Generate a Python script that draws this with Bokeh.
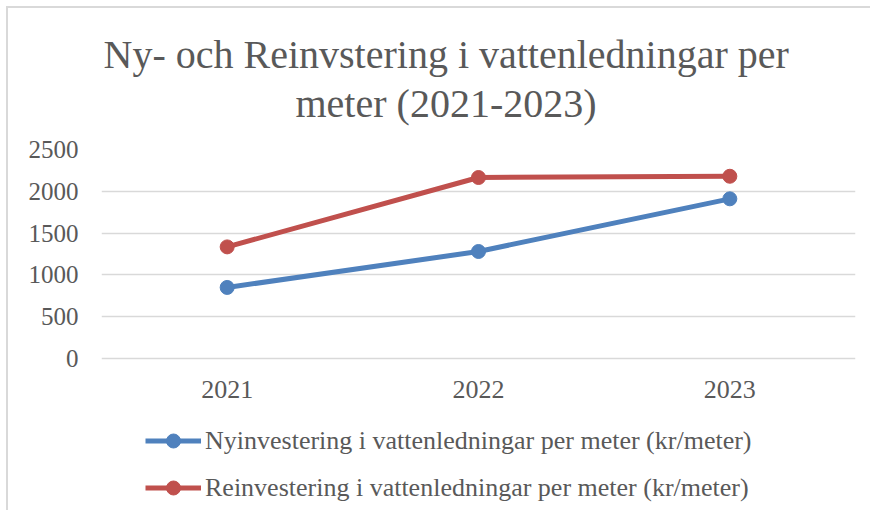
from bokeh.plotting import figure
from bokeh.models import Legend, LegendItem, Title
from bokeh.embed import file_html
from bokeh.resources import INLINE

years = ["2021", "2022", "2023"]
ny_values = [850, 1280, 1910]
re_values = [1335, 2165, 2180]
ny_label = "Nyinvestering i vattenledningar per meter (kr/meter)"
re_label = "Reinvestering i vattenledningar per meter (kr/meter)"
title_line1 = "Ny- och Reinvstering i vattenledningar per"
title_line2 = "meter (2021-2023)"
y_ticks = [0, 500, 1000, 1500, 2000, 2500]

FONT = "Liberation Serif"
GRAY = "#595959"
BLUE = "#4f81bd"
RED = "#c0504d"

# frame spans from the 2500 gridline down to the bottom edge; the space below
# the 0 line holds the category labels and the legend
Y_BOTTOM = -1842

p = figure(x_range=years, y_range=(Y_BOTTOM, 2500), width=864, height=504,
           output_backend="svg", toolbar_location=None,
           min_border_left=93, min_border_right=17, min_border_bottom=0,
           min_border_top=141)
p.styles = {"margin-left": "6px", "margin-top": "6px",
            "border-left": "2px solid #d9d9d9",
            "border-top": "2px solid #d9d9d9"}
p.x_range.range_padding = 0

p.title = None
p.add_layout(Title(text=title_line2, align="left", text_font=FONT,
                   text_font_size="40px", text_font_style="normal",
                   text_color=GRAY, offset=194, standoff=48), "above")
p.add_layout(Title(text=title_line1, align="left", text_font=FONT,
                   text_font_size="40px", text_font_style="normal",
                   text_color=GRAY, offset=2, standoff=-44), "above")

r1 = p.line(years, ny_values, line_color=BLUE, line_width=5)
c1 = p.scatter(years, ny_values, size=14, fill_color=BLUE, line_color=BLUE)
r2 = p.line(years, re_values, line_color=RED, line_width=5)
c2 = p.scatter(years, re_values, size=14, fill_color=RED, line_color=RED)

p.outline_line_color = None
p.xgrid.grid_line_color = None
p.ygrid.grid_line_color = "#d9d9d9"
p.ygrid.grid_line_width = 1.5
p.yaxis.ticker = y_ticks

for ax in (p.xaxis, p.yaxis):
    ax.axis_line_color = None
    ax.major_tick_line_color = None
    ax.minor_tick_line_color = None
    ax.major_label_text_font = FONT
    ax.major_label_text_color = GRAY
p.yaxis.major_label_text_font_size = "25px"
p.xaxis.major_label_text_font_size = "26px"
p.xaxis.fixed_location = y_ticks[0]
p.yaxis.major_label_standoff = 17
p.xaxis.major_label_standoff = 16

legend = Legend(items=[LegendItem(label=ny_label, renderers=[r1, c1]),
                       LegendItem(label=re_label, renderers=[r2, c2])],
                location=(44, 7), orientation="vertical",
                label_text_font=FONT, label_text_font_size="26px",
                label_text_color=GRAY, glyph_width=56, glyph_height=35,
                spacing=12, padding=0, margin=0, label_standoff=4,
                border_line_color=None, background_fill_alpha=0)
p.add_layout(legend, "center")

open("out.html", "w").write(file_html(p, INLINE))
